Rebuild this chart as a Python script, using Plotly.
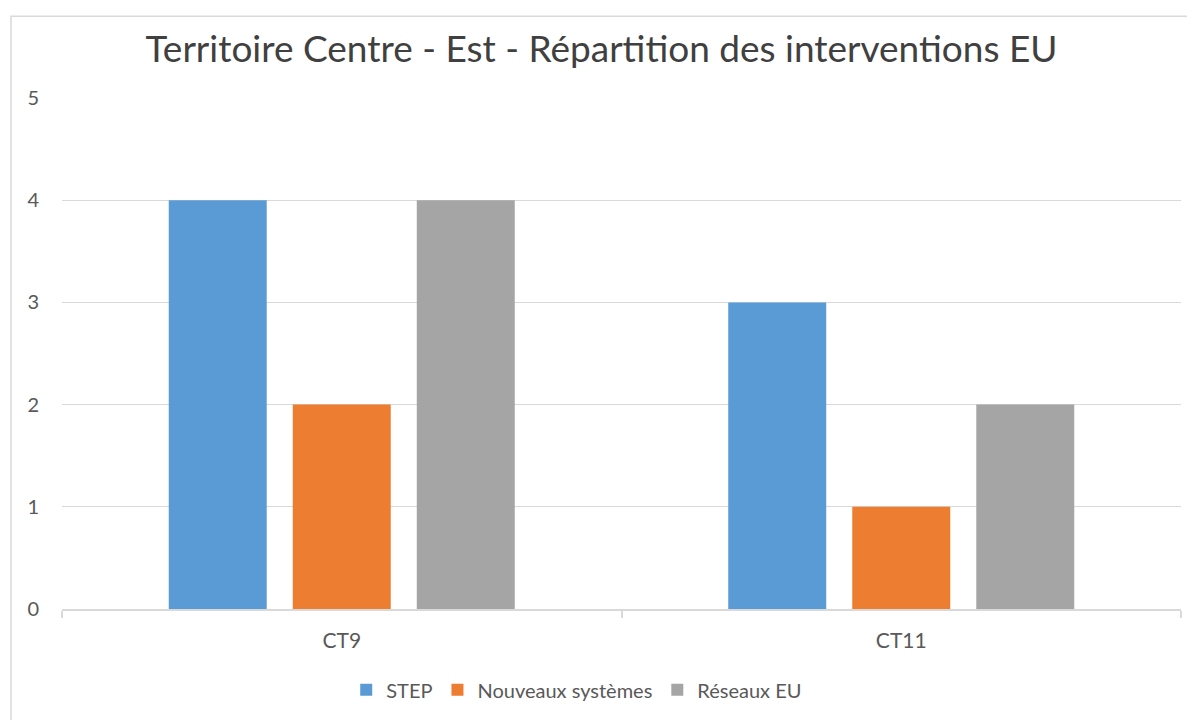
import plotly.graph_objects as go

categories = ["CT9", "CT11"]
series_names = ["STEP", "Nouveaux systèmes", "Réseaux EU"]
step_values = [4, 3]
nouveaux_values = [2, 1]
reseaux_values = [4, 2]
colors = ["#5B9BD5", "#ED7D31", "#A5A5A5"]
y_ticks = [0, 1, 2, 3, 4, 5]

FONT = "Lato"
W, H = 1187, 712  # page body has an 8px margin
fig = go.Figure()
for name, vals, col in zip(series_names, [step_values, nouveaux_values, reseaux_values], colors):
    fig.add_trace(go.Bar(x=categories, y=vals, name=name, marker=dict(color=col, line=dict(width=0))))

fig.update_layout(
    width=W, height=H,
    margin=dict(l=54, r=14, t=90, b=110),
    paper_bgcolor="white", plot_bgcolor="white",
    barmode="group", bargap=0.335, bargroupgap=0.21,
    title=dict(text="Territoire Centre - Est - Répartition des interventions EU",
               x=0.5, xanchor="center", y=0.943, yanchor="middle",
               font=dict(family=FONT, size=37, color="#404040")),
    font=dict(family=FONT, color="#595959"),
    xaxis=dict(showline=True, linecolor="#d9d9d9", linewidth=1.5, ticks="outside",
               tickson="boundaries", ticklen=7, tickcolor="#d9d9d9", tickwidth=1.5,
               ticklabelstandoff=12,
               tickfont=dict(size=21, color="#595959"), showgrid=False),
    yaxis=dict(range=[0, 5], tickvals=y_ticks, showgrid=True, gridcolor="#d9d9d9", gridwidth=1.2,
               zeroline=False, showline=False, ticks="", ticklabelstandoff=22,
               tickfont=dict(size=20, color="#595959")),
    legend=dict(orientation="h", x=0.254, xanchor="left", y=-0.156, yanchor="middle",
                font=dict(size=20, color="#595959"), traceorder="normal"),
    shapes=[dict(type="rect", xref="paper", yref="paper", x0=-0.0456, x1=1.2, y0=-0.4, y1=1.160,
                 line=dict(color="#d9d9d9", width=1.5), fillcolor="rgba(0,0,0,0)", layer="below")],
)
fig.write_html("out.html")
